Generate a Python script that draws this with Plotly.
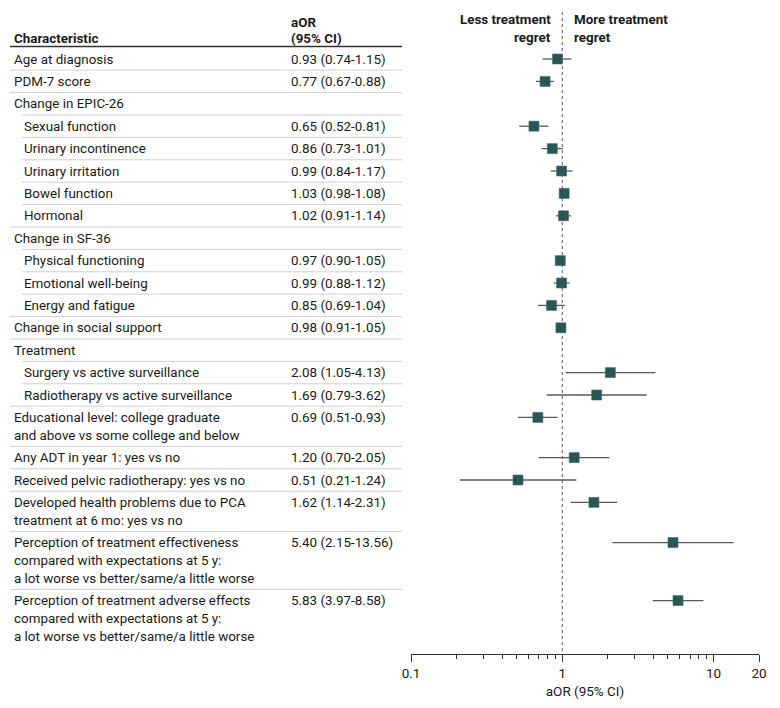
import numpy as np
import plotly.graph_objects as go

# ---------------- data ----------------
labels = [
    "Age at diagnosis",
    "PDM-7 score",
    "Change in EPIC-26",
    "Sexual function",
    "Urinary incontinence",
    "Urinary irritation",
    "Bowel function",
    "Hormonal",
    "Change in SF-36",
    "Physical functioning",
    "Emotional well-being",
    "Energy and fatigue",
    "Change in social support",
    "Treatment",
    "Surgery vs active surveillance",
    "Radiotherapy vs active surveillance",
    "Educational level: college graduate|and above vs some college and below",
    "Any ADT in year 1: yes vs no",
    "Received pelvic radiotherapy: yes vs no",
    "Developed health problems due to PCA|treatment at 6 mo: yes vs no",
    "Perception of treatment effectiveness|compared with expectations at 5 y:|a lot worse vs better/same/a little worse",
    "Perception of treatment adverse effects|compared with expectations at 5 y:|a lot worse vs better/same/a little worse",
]
indent = [0, 0, 0, 1, 1, 1, 1, 1, 0, 1, 1, 1, 0, 0, 1, 1, 0, 0, 0, 0, 0, 0]
aor = [0.93, 0.77, None, 0.65, 0.86, 0.99, 1.03, 1.02, None, 0.97, 0.99, 0.85, 0.98,
       None, 2.08, 1.69, 0.69, 1.20, 0.51, 1.62, 5.40, 5.83]
ci_lo = [0.74, 0.67, None, 0.52, 0.73, 0.84, 0.98, 0.91, None, 0.90, 0.88, 0.69, 0.91,
         None, 1.05, 0.79, 0.51, 0.70, 0.21, 1.14, 2.15, 3.97]
ci_hi = [1.15, 0.88, None, 0.81, 1.01, 1.17, 1.08, 1.14, None, 1.05, 1.12, 1.04, 1.05,
         None, 4.13, 3.62, 0.93, 2.05, 1.24, 2.31, 13.56, 8.58]
x_ticks = [0.1, 1, 10, 20]
x_tick_text = ["0.1", "1", "10", "20"]
x_minor = [0.2, 0.3, 0.4, 0.5, 0.6, 0.7, 0.8, 0.9, 2, 3, 4, 5, 6, 7, 8, 9]

# ---------------- layout helpers ----------------
W, H = 780, 708
AX_Y = 654            # pixel row of the x axis line
FIRST = 59            # first row centre
ROW_STEP = 22.4       # gap between rows
LINE_STEP = 17.8      # gap between wrapped lines
FONT = "Roboto"
TXT = "#1a1a1a"
FS = 13.4

def px(x):
    return x / W

# compute row positions
row_lines = [lab.split("|") for lab in labels]
row_y = []
y = FIRST
for lines in row_lines:
    row_y.append(y)
    y += (len(lines) - 1) * LINE_STEP + ROW_STEP

fig = go.Figure()

# CI lines
cx, cy = [], []
for a, lo, hi, yy in zip(aor, ci_lo, ci_hi, row_y):
    if a is None:
        continue
    cx += [lo, hi, None]
    cy += [yy, yy, None]
fig.add_trace(go.Scatter(x=cx, y=cy, mode="lines",
                         line=dict(color="#5a5a5a", width=1.3),
                         hoverinfo="skip", showlegend=False))

# reference line at 1
fig.add_trace(go.Scatter(x=[1, 1], y=[12, AX_Y], mode="lines",
                         line=dict(color="#555555", width=1, dash="dot"),
                         hoverinfo="skip", showlegend=False))

# point estimates
mx = [a for a in aor if a is not None]
my = [yy for a, yy in zip(aor, row_y) if a is not None]
fig.add_trace(go.Scatter(x=mx, y=my, mode="markers",
                         marker=dict(symbol="square", size=10, color="#2a5753",
                                     line=dict(color="#3f6d69", width=0.6)),
                         showlegend=False))

annotations = []
shapes = []

def text(x, y, s, anchor="left", bold=False, size=FS):
    annotations.append(dict(
        x=px(x), y=y, xref="paper", yref="y", text=("<b>%s</b>" % s) if bold else s,
        showarrow=False, xanchor=anchor, yanchor="middle",
        font=dict(family=FONT, size=size, color=TXT)))

# headers
text(12, 38, "Characteristic", bold=True)
text(289, 22, "aOR", bold=True)
text(289, 38, "(95% CI)", bold=True)
text(553, 19, "Less treatment", anchor="right", bold=True)
text(553, 37, "regret", anchor="right", bold=True)
text(572, 19, "More treatment", bold=True)
text(572, 37, "regret", bold=True)

shapes.append(dict(type="line", xref="paper", yref="y", x0=px(10), x1=px(402),
                   y0=46.5, y1=46.5, line=dict(color="#333333", width=1.3)))

# table rows
for i, (lines, ind, a, lo, hi, yy) in enumerate(zip(row_lines, indent, aor, ci_lo, ci_hi, row_y)):
    x0 = 22 if ind else 12
    for j, ln in enumerate(lines):
        text(x0, yy + j * LINE_STEP, ln)
    if a is not None:
        text(289, yy, "%.2f (%.2f-%.2f)" % (a, lo, hi))
    if i < len(labels) - 1:
        last = yy + (len(lines) - 1) * LINE_STEP
        sep = last + ROW_STEP / 2
        sx = 22 if indent[i + 1] else 10
        shapes.append(dict(type="line", xref="paper", yref="y", x0=px(sx), x1=px(402),
                           y0=sep, y1=sep, line=dict(color="#cfcfcf", width=1)))

fig.update_layout(
    width=W, height=H,
    margin=dict(l=0, r=0, t=0, b=0, autoexpand=False),
    paper_bgcolor="white", plot_bgcolor="white",
    annotations=annotations, shapes=shapes,
    xaxis=dict(type="log", domain=[px(411), px(759)], automargin=False,
               range=[np.log10(0.1), np.log10(20)],
               tickvals=x_ticks, ticktext=x_tick_text,
               ticks="outside", ticklen=7, tickcolor="#333333", tickwidth=1,
               showline=True, linecolor="#333333", linewidth=1,
               showgrid=False, zeroline=False,
               tickfont=dict(family=FONT, size=13.5, color=TXT),
               minor=dict(tickvals=x_minor, ticks="outside", ticklen=4,
                          tickcolor="#333333", showgrid=False),
               title=dict(text="aOR (95% CI)", standoff=6,
                          font=dict(family=FONT, size=13.5, color=TXT))),
    yaxis=dict(domain=[(H - AX_Y) / H, 1], range=[AX_Y, 0], automargin=False,
               visible=False, showgrid=False, zeroline=False),
)

fig.write_html("out.html",
               config={"displayModeBar": False},
               post_script="document.body.style.margin='0';document.body.style.padding='0';")
